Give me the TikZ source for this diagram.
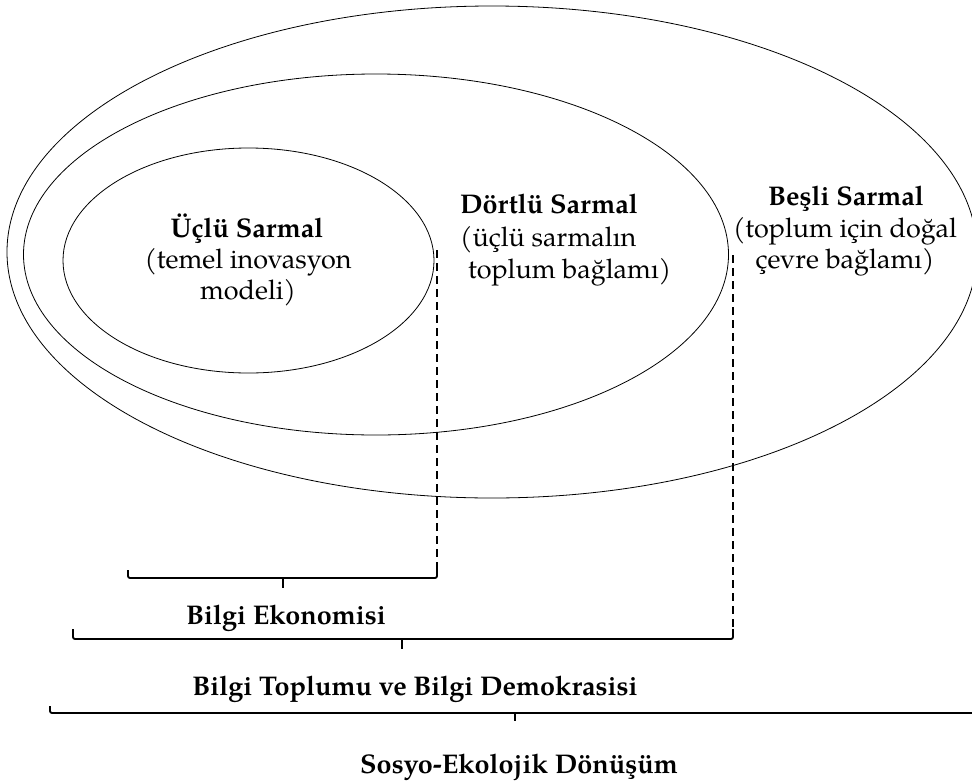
\documentclass[tikz,border=0pt]{standalone}
\usepackage{fontspec}
\setmainfont{TeX Gyre Pagella}
\begin{document}
\begin{tikzpicture}[x=1pt,y=-1pt,
  lbl/.style={inner sep=0pt,font=\fontsize{27}{32}\selectfont},
  blbl/.style={lbl,font=\fontsize{27}{32}\selectfont\bfseries},
  ell/.style={draw,line width=0.8pt},
  dline/.style={draw,line width=1.3pt,dash pattern=on 8pt off 5pt},
  bracket/.style={draw,line width=1.8pt,rounded corners=2pt}]
\useasboundingbox (0,0) rectangle (972,782);
% ellipses
\draw[ell] (492,252) ellipse [x radius=485, y radius=246];
\draw[ell] (376,254.5) ellipse [x radius=352.5, y radius=180.5];
\draw[ell] (248.5,260.5) ellipse [x radius=185.5, y radius=112.5];
% Üçlü
\node[blbl,anchor=base] (u1) at (247,237) {Üçlü Sarmal};
\node[lbl,anchor=base] (u2) at (248,268) {(temel inovasyon};
\node[lbl,anchor=base] (u3) at (248,299) {modeli)};
% Dörtlü
\node[blbl,anchor=base west] (d1) at (460,213) {Dörtlü Sarmal};
\node[lbl,anchor=base west] (d2) at (460,246) {(üçlü sarmalın};
\node[lbl,anchor=base west] (d3) at (468,278) {toplum bağlamı)};
% Beşli
\node[blbl,anchor=base] (b1) at (846,205) {Beşli Sarmal};
\node[lbl,anchor=base] (b2) at (845,237) {(toplum için doğal};
\node[lbl,anchor=base] (b3) at (845,268) {çevre bağlamı)};
% dashed lines and brackets
\coordinate (t1) at (437,250);
\coordinate (e1r) at (437,570);
\coordinate (e1l) at (128,570);
\coordinate (k1) at (283,578);
\coordinate (t2) at (733,255);
\coordinate (e2r) at (733,629);
\coordinate (e2l) at (73,629);
\coordinate (k2) at (402,639);
\coordinate (e3l) at (50,706);
\coordinate (e3r) at (980,713);
\coordinate (k3) at (515,713);
\draw[dline] (t1) -- (e1r);
\draw[dline] (t2) -- (e2r);
\draw[bracket] (e1l) -- (e1l |- k1) -- (e1r |- k1) -- (e1r);
\draw[bracket] (k1) -- ++(0,10);
\draw[bracket] (e2l) -- (e2l |- k2) -- (e2r |- k2) -- (e2r);
\draw[bracket] (k2) -- ++(0,10);
\draw[bracket] (e3l) -- (e3l |- k3) -- (e3r);
\draw[bracket] (k3) -- ++(0,8);
% bottom labels
\node[blbl,anchor=base] (l1) at (286,624) {Bilgi Ekonomisi};
\node[blbl,anchor=base] (l2) at (415,695) {Bilgi Toplumu ve Bilgi Demokrasisi};
\node[blbl,anchor=base] (l3) at (519,773) {Sosyo-Ekolojik Dönüşüm};
\end{tikzpicture}
\end{document}
